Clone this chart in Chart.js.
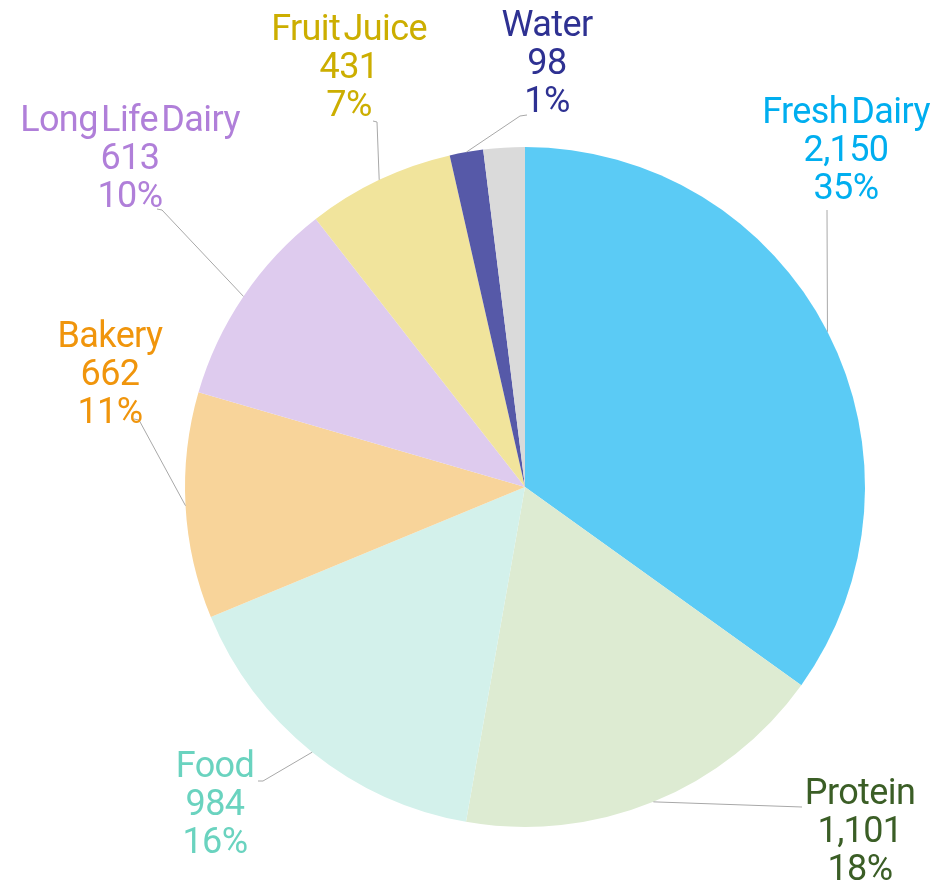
<!DOCTYPE html>
<html>
<head>
<meta charset="utf-8">
<script src="https://cdn.jsdelivr.net/npm/chart.js@4"></script>
<style>
  html, body { margin: 0; padding: 0; background: #fff; }
  #wrap { width: 944px; height: 883px; position: relative; }
</style>
</head>
<body>
<div id="wrap"><canvas id="myChart" width="944" height="883"></canvas></div>
<script>
// data (last slice is the unlabelled grey remainder)
const categories = ['Fresh Dairy', 'Protein', 'Food', 'Bakery', 'Long Life Dairy', 'Fruit Juice', 'Water', ''];
const values = [2150, 1101, 984, 662, 613, 431, 98, 121];
const valueLabels = ['2,150', '1,101', '984', '662', '613', '431', '98', ''];
const percentLabels = ['35%', '18%', '16%', '11%', '10%', '7%', '1%', ''];

const sliceColors = ['#5bcbf5', '#ddebd2', '#d3f1eb', '#f8d49a', '#decbee', '#f1e49c', '#5659a8', '#dadada'];
const textColors = ['#00aeef', '#3b5e26', '#6ad3bf', '#f0950c', '#b07fd9', '#ccae00', '#2e3192', '#999'];

// label placement: text centre (first line) and the leader's elbow / tail
const labelPlace = [
    { x: 846, y: 114, elbow: [827, 210], tail: null },
    { x: 860, y: 795, elbow: [802, 807], tail: null },
    { x: 215, y: 768, elbow: [263, 781], tail: [258, 781] },
    { x: 110, y: 338, elbow: [139, 420], tail: [134, 419] },
    { x: 130, y: 122, elbow: [162, 210], tail: [157, 209] },
    { x: 349, y: 31, elbow: [377, 122], tail: [373, 121] },
    { x: 547, y: 27, elbow: [520, 116], tail: [527, 115] },
    null
];

const calloutPlugin = {
    id: 'callouts',
    afterDraw(chart) {
        const c = chart.ctx;
        const arcs = chart.getDatasetMeta(0).data;
        c.save();
        arcs.forEach((arc, i) => {
            const p = labelPlace[i];
            if (!p) return;
            const mid = (arc.startAngle + arc.endAngle) / 2;
            const ax = arc.x + Math.cos(mid) * arc.outerRadius;
            const ay = arc.y + Math.sin(mid) * arc.outerRadius;
            c.strokeStyle = '#a8a8a8';
            c.lineWidth = 1;
            c.beginPath();
            c.moveTo(ax, ay);
            c.lineTo(p.elbow[0], p.elbow[1]);
            if (p.tail) c.lineTo(p.tail[0], p.tail[1]);
            c.stroke();

            c.fillStyle = textColors[i];
            c.font = '36px Roboto';
            c.letterSpacing = '-0.6px';
            c.wordSpacing = '-5px';
            c.textAlign = 'center';
            c.textBaseline = 'middle';
            const lines = [categories[i], valueLabels[i], percentLabels[i]];
            lines.forEach((t, k) => c.fillText(t, p.x, p.y + k * 38));
        });
        c.restore();
    }
};

const ctx = document.getElementById('myChart').getContext('2d');

const myChart = new Chart(ctx, {
    type: 'pie',
    data: {
        labels: categories,
        datasets: [{
            data: values,
            backgroundColor: sliceColors,
            borderWidth: 0
        }]
    },
    options: {
        responsive: false,
        animation: false,
        layout: {
            padding: { left: 185, right: 79, top: 147, bottom: 56 }
        },
        plugins: {
            legend: { display: false },
            tooltip: { enabled: false }
        }
    },
    plugins: [calloutPlugin]
});
</script>
</body>
</html>
